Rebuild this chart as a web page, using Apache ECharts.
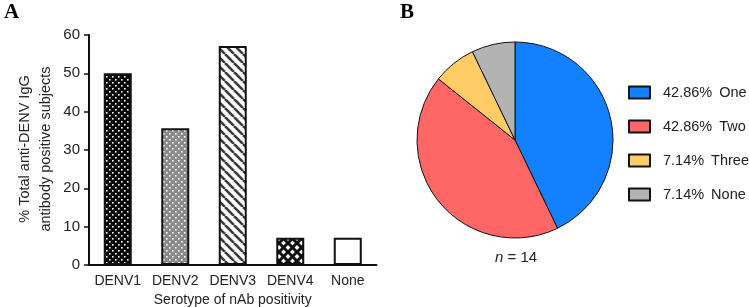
<!DOCTYPE html>
<html>
<head>
<meta charset="utf-8">
<script src="https://cdn.jsdelivr.net/npm/echarts@6/dist/echarts.min.js"></script>
<style>
  html, body { margin: 0; padding: 0; background: #fff; }
  #chart { width: 749px; height: 307px; }
</style>
</head>
<body>
<div id="chart"></div>
<script>
// panel A data
const serotypes = ['DENV1', 'DENV2', 'DENV3', 'DENV4', 'None']
const positivePct = [50, 35.7, 57.1, 7.1, 7.1]
const yTicks = { min: 0, max: 60, step: 10 }

// panel B data
const groupNames = ['One', 'Two', 'Three', 'None']
const groupCounts = [6, 6, 1, 1]
const groupPctLabels = ['42.86%', '42.86%', '7.14%', '7.14%']

const FONT = 'Liberation Sans, Arial, sans-serif'

// small canvas tiles for the hatch fills
const makeTile = (size, draw) => {
  const c = document.createElement('canvas')
  c.width = size
  c.height = size
  draw(c.getContext('2d'), size)
  return { image: c, repeat: 'repeat' }
}

const dots = (bg) => makeTile(6, (ctx, s) => {
  ctx.fillStyle = bg
  ctx.fillRect(0, 0, s, s)
  ctx.fillStyle = '#fff'
  ctx.fillRect(1, 1, 1.6, 1.6)
  ctx.fillRect(4, 4, 1.6, 1.6)
})

const stripes = makeTile(9, (ctx, s) => {
  ctx.fillStyle = '#fff'
  ctx.fillRect(0, 0, s, s)
  ctx.strokeStyle = '#3a3a3a'
  ctx.lineWidth = 2.6
  for (const o of [-s, 0, s]) {
    ctx.beginPath()
    ctx.moveTo(o, 0)
    ctx.lineTo(o + s, s)
    ctx.stroke()
  }
})

const lattice = makeTile(9, (ctx, s) => {
  ctx.fillStyle = '#fff'
  ctx.fillRect(0, 0, s, s)
  ctx.strokeStyle = '#111'
  ctx.lineWidth = 3
  for (const o of [-s, 0, s]) {
    ctx.beginPath()
    ctx.moveTo(o, 0)
    ctx.lineTo(o + s, s)
    ctx.stroke()
    ctx.beginPath()
    ctx.moveTo(o + s, 0)
    ctx.lineTo(o, s)
    ctx.stroke()
  }
})

const barFills = [dots('#050505'), dots('#8a8a8a'), stripes, lattice, '#fff']
const pieColors = ['#1380ff', '#ff6666', '#ffcc66', '#b3b3b3']

const chart = echarts.init(document.getElementById('chart'))

const option = {
  animation: false,
  textStyle: { fontFamily: FONT },
  grid: { left: 89, top: 35, width: 287.5, height: 230, outerBoundsMode: 'none', containLabel: false },
  xAxis: {
    type: 'category',
    data: serotypes,
    name: 'Serotype of nAb positivity',
    nameLocation: 'middle',
    nameGap: 26,
    nameTextStyle: { fontSize: 14, color: '#222', fontFamily: FONT },
    axisLine: { lineStyle: { color: '#111', width: 2 } },
    axisTick: { alignWithLabel: true, length: 5, lineStyle: { color: '#111', width: 1.5 } },
    axisLabel: { interval: 0, fontSize: 14, color: '#222', margin: 9, fontFamily: FONT }
  },
  yAxis: {
    type: 'value',
    min: yTicks.min,
    max: yTicks.max,
    interval: yTicks.step,
    splitLine: { show: false },
    axisLine: { show: true, lineStyle: { color: '#111', width: 2 } },
    axisTick: { show: true, length: 5, lineStyle: { color: '#111', width: 1.5 } },
    axisLabel: { fontSize: 15, color: '#222', margin: 9, fontFamily: FONT }
  },
  legend: {
    data: groupNames,
    orient: 'vertical',
    left: 628,
    top: 85,
    padding: 0,
    itemWidth: 21,
    itemHeight: 12,
    itemGap: 19,
    icon: 'rect',
    textStyle: {
      fontSize: 14.5,
      color: '#222',
      fontFamily: FONT,
      padding: [0, 0, 0, 8],
      rich: {
        p: { fontSize: 14.5, fontFamily: FONT, color: '#222' },
        n: { fontSize: 14.5, fontFamily: FONT, color: '#222', padding: [0, 0, 0, 7] }
      }
    },
    formatter: (name) => '{p|' + groupPctLabels[groupNames.indexOf(name)] + '}{n|' + name + '}'
  },
  series: [
    {
      type: 'bar',
      barWidth: 28,
      data: positivePct.map((v, i) => ({
        value: v,
        itemStyle: { color: barFills[i], borderColor: '#111', borderWidth: 2 }
      }))
    },
    {
      type: 'pie',
      center: [515, 140],
      radius: 98,
      startAngle: 90,
      clockwise: true,
      label: { show: false },
      labelLine: { show: false },
      emphasis: { disabled: true },
      itemStyle: { borderColor: '#111', borderWidth: 1 },
      data: groupNames.map((n, i) => ({
        name: n,
        value: groupCounts[i],
        itemStyle: { color: pieColors[i] }
      }))
    }
  ],
  graphic: [
    {
      type: 'text', left: 4, top: 2,
      style: { text: 'A', font: 'bold 21px "Liberation Serif", "Times New Roman", serif', fill: '#000' }
    },
    {
      type: 'text', left: 400, top: 2,
      style: { text: 'B', font: 'bold 21px "Liberation Serif", "Times New Roman", serif', fill: '#000' }
    },
    {
      type: 'text',
      x: 35, y: 149,
      rotation: Math.PI / 2,
      style: {
        text: '% Total anti-DENV IgG\nantibody positive subjects',
        font: '14.5px ' + FONT,
        fill: '#222',
        align: 'center',
        verticalAlign: 'middle',
        lineHeight: 21
      }
    },
    {
      type: 'text',
      x: 516, y: 258,
      style: {
        text: '{i|n} = 14',
        rich: { i: { font: 'italic 15px ' + FONT, fill: '#222' } },
        font: '15px ' + FONT,
        fill: '#222',
        align: 'center',
        verticalAlign: 'middle'
      }
    }
  ]
}

chart.setOption(option)
</script>
</body>
</html>
